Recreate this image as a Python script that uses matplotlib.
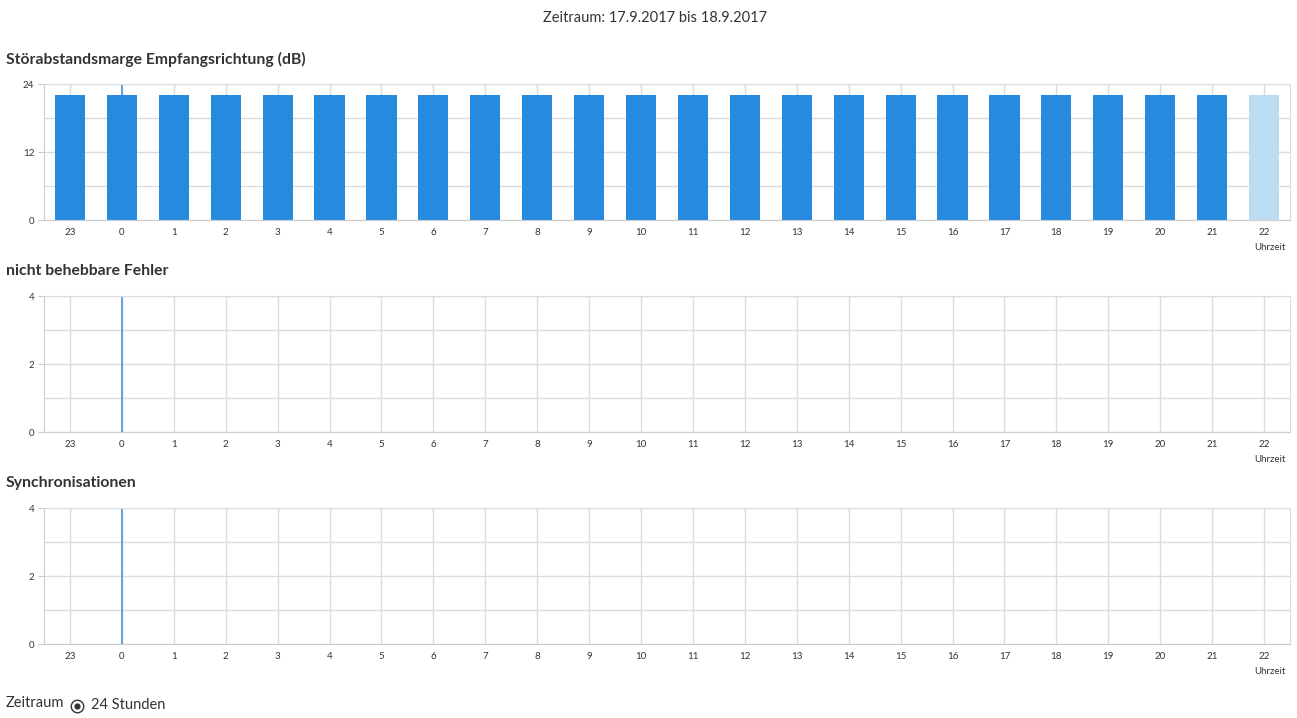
import matplotlib
matplotlib.use("Agg")
import matplotlib.pyplot as plt
from matplotlib.lines import Line2D
from matplotlib.ticker import MultipleLocator

plt.rcParams['font.family'] = ['Lato', 'DejaVu Sans']

# Stunden (x-Achse) und Messwerte
stunden = [23, 0, 1, 2, 3, 4, 5, 6, 7, 8, 9, 10, 11, 12, 13, 14, 15, 16, 17, 18, 19, 20, 21, 22]
snr_db = [22, 22, 22, 22, 22, 22, 22, 22, 22, 22, 22, 22, 22, 22, 22, 22, 22, 22, 22, 22, 22, 22, 22, 22]
fehler = [0, 0, 0, 0, 0, 0, 0, 0, 0, 0, 0, 0, 0, 0, 0, 0, 0, 0, 0, 0, 0, 0, 0, 0]
syncs = [0, 0, 0, 0, 0, 0, 0, 0, 0, 0, 0, 0, 0, 0, 0, 0, 0, 0, 0, 0, 0, 0, 0, 0]
tageswechsel = 0  # Stunde, an der die Tageslinie steht

titel = ["Störabstandsmarge Empfangsrichtung (dB)", "nicht behebbare Fehler", "Synchronisationen"]
ymax = [24, 4, 4]
ymajor = [12, 2, 2]
yminor = [6, 1, 1]

W, H = 1297, 718
BLAU = "#268bde"
BLAU_HELL = "#bcdcf3"
LINIE = "#5b9bd5"
GRID = "#dcdcdc"
TEXT = "#333333"

fig = plt.figure(figsize=(W / 100, H / 100), dpi=100)
fig.text(655 / W, 1 - 18 / H, "Zeitraum: 17.9.2017 bis 18.9.2017", ha="center", va="center",
         fontsize=10.5, color=TEXT)

# obere Kante (px) jedes Diagramms
oben = [84, 296, 508]
daten = [snr_db, fehler, syncs]
x = list(range(len(stunden)))

for i in range(3):
    top = oben[i]
    ax = fig.add_axes([44 / W, 1 - (top + 136) / H, 1246 / W, 136 / H])
    farben = [BLAU] * (len(x) - 1) + [BLAU_HELL]
    ax.axvline(stunden.index(tageswechsel), color=LINIE, lw=1.3, zorder=1)
    ax.bar(x, daten[i], width=0.58, color=farben, zorder=2)
    ax.set_xlim(-0.5, len(x) - 0.5)
    ax.set_ylim(0, ymax[i])
    ax.set_xticks(x)
    ax.set_xticklabels([str(s) for s in stunden])
    ax.yaxis.set_major_locator(MultipleLocator(ymajor[i]))
    ax.yaxis.set_minor_locator(MultipleLocator(yminor[i]))
    ax.grid(True, which="both", color=GRID, lw=1, zorder=0)
    ax.set_axisbelow(True)
    for s in ax.spines.values():
        s.set_color(GRID)
    ax.spines["left"].set_color("#cccccc")
    ax.spines["bottom"].set_color("#cccccc")
    ax.tick_params(axis="x", length=0, pad=6, labelsize=7, labelcolor=TEXT)
    ax.tick_params(axis="y", which="major", length=4, color="#cccccc", pad=3, labelsize=7, labelcolor=TEXT)
    ax.tick_params(axis="y", which="minor", length=0)
    fig.text(6 / W, 1 - (top - 25) / H, titel[i], ha="left", va="center", fontsize=11.3,
             fontweight="bold", color=TEXT)
    fig.text(1270 / W, 1 - (top + 164) / H, "Uhrzeit", ha="center", va="center", fontsize=7, color=TEXT)

# Zeitraum-Auswahl unten
fig.text(6 / W, 1 - 703 / H, "Zeitraum", ha="left", va="center", fontsize=10.5, color=TEXT)
fig.add_artist(Line2D([77 / W], [1 - 706 / H], transform=fig.transFigure, marker="o",
                      markersize=9, mfc="white", mec=TEXT, mew=1, ls="none"))
fig.add_artist(Line2D([77 / W], [1 - 706 / H], transform=fig.transFigure, marker="o",
                      markersize=4.5, mfc=TEXT, mec=TEXT, mew=0, ls="none"))
fig.text(91 / W, 1 - 705 / H, "24 Stunden", ha="left", va="center", fontsize=10.5, color=TEXT)

fig.savefig("out.png", dpi=100)
